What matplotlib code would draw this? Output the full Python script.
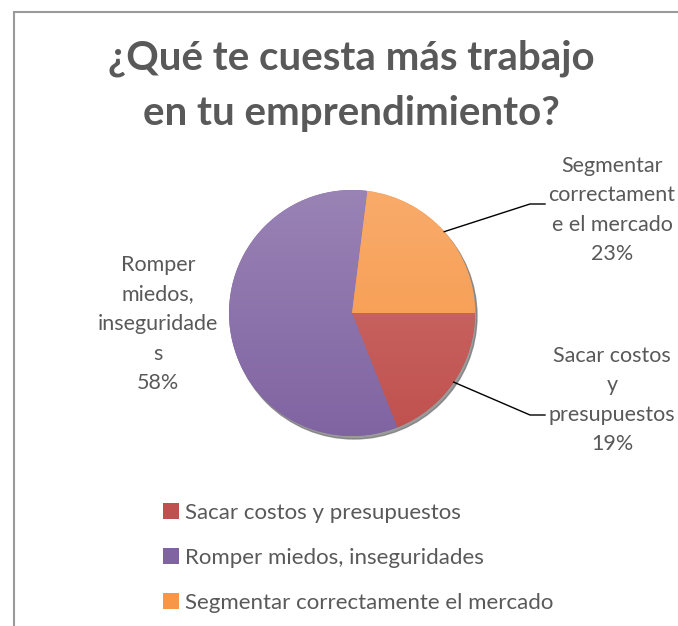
import numpy as np
import matplotlib.pyplot as plt
from matplotlib.colors import LinearSegmentedColormap, to_rgb
from matplotlib.patches import Circle, Rectangle

categories = ["Sacar costos y presupuestos",
              "Romper miedos, inseguridades",
              "Segmentar correctamente el mercado"]
shares = [19, 58, 23]
slice_labels = ["Sacar costos\ny\npresupuestos\n19%",
                "Romper\nmiedos,\ninseguridade\ns\n58%",
                "Segmentar\ncorrectament\ne el mercado\n23%"]
colors = ["#C0504D", "#8064A2", "#F79646"]
title = "¿Qué te cuesta más trabajo\nen tu emprendimiento?"

plt.rcParams['font.family'] = ['Lato', 'DejaVu Sans']
txt_color = "#595959"

W, H = 678, 626
fig = plt.figure(figsize=(W / 100, H / 100), dpi=100)
ax = fig.add_axes([0, 0, 1, 1])

# chart border (only left and top visible, rest is cropped)
ax.add_patch(Rectangle((13.5, -20), W + 40, H - 12 + 20, fill=False,
                       edgecolor="#9a9a9a", linewidth=1.5, zorder=0))

cx, cy, r = 352, H - 313, 123

# soft shadow under the pie
ax.add_patch(Circle((cx + 2, cy - 3), r, color="#6f6f6f", alpha=0.7, zorder=0.5))

wedges, _ = ax.pie(shares, colors=colors, startangle=0, counterclock=False,
                   center=(cx, cy), radius=r, wedgeprops=dict(linewidth=0))

# vertical gradient, lighter at the top
grad = np.linspace(0, 1, 256).reshape(-1, 1)
for w, c in zip(wedges, colors):
    base = np.array(to_rgb(c))
    top = base + 0.2 * (1 - base)
    cmap = LinearSegmentedColormap.from_list("g", [base, top])
    im = ax.imshow(grad, cmap=cmap, extent=(cx - r, cx + r, cy - r, cy + r),
                   origin="lower", aspect="auto", zorder=2)
    im.set_clip_path(w)

# data labels with leader lines
lab_pos = {0: (612, H - 400), 1: (158, H - 324), 2: (612, H - 210)}
for i, w in enumerate(wedges):
    lx, ly = lab_pos[i]
    ax.text(lx, ly, slice_labels[i], ha="center", va="center", fontsize=15.5,
            color=txt_color, linespacing=1.6, zorder=4)
    if i == 1:
        continue
    mid = np.deg2rad((w.theta1 + w.theta2) / 2)
    ex, ey = cx + r * np.cos(mid), cy + r * np.sin(mid)
    hy = H - 415 if i == 0 else H - 204
    ax.plot([ex, 530, 545], [ey, hy, hy], color="black", linewidth=1, zorder=3)

ax.set_xlim(0, W)
ax.set_ylim(0, H)
ax.set_aspect("auto")
ax.axis("off")

fig.text(351 / W, 1 - 86 / H, title, ha="center", va="center", fontsize=29,
         fontweight="bold", color=txt_color, linespacing=1.6)

leg = ax.legend(wedges, categories, loc="upper left",
                bbox_to_anchor=(143 / W, 1 - 483 / H), frameon=False,
                fontsize=16, labelcolor=txt_color, handlelength=0.7,
                handleheight=0.7, handletextpad=0.3, labelspacing=1.12)

fig.savefig("out.png", dpi=100)
